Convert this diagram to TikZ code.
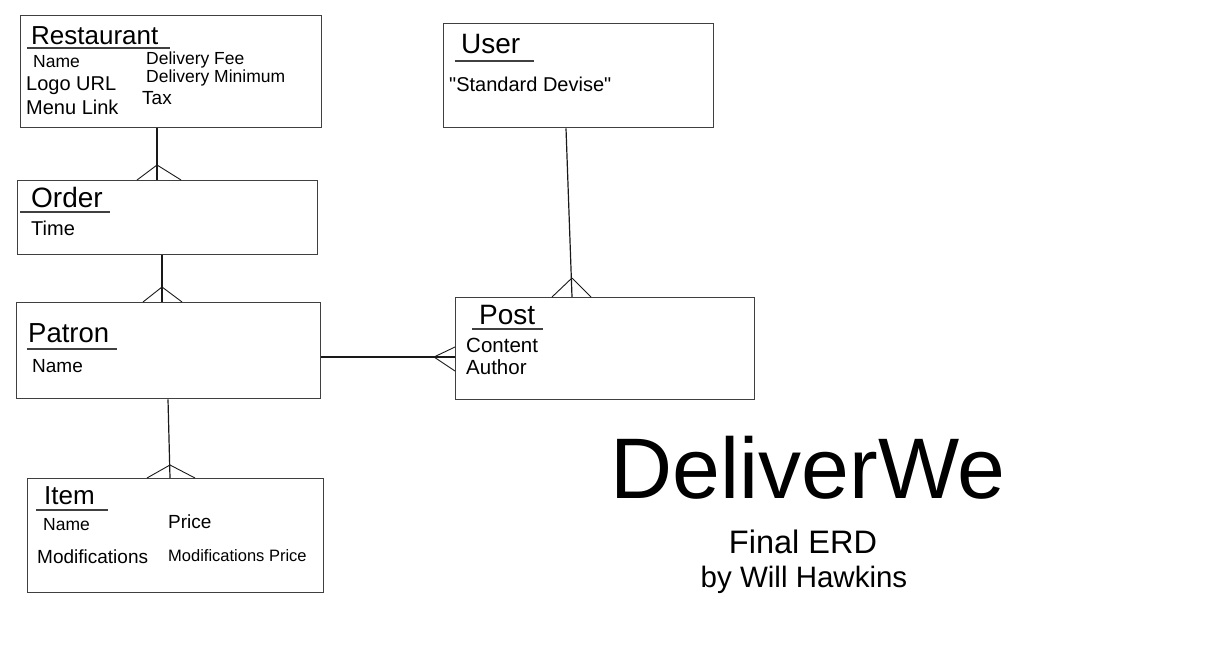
\documentclass[tikz,border=0pt]{standalone}
\usepackage{fontspec}
\setmainfont{Liberation Sans}
\newfontfamily\devfont{Liberation Sans}
\usetikzlibrary{calc}

\tikzset{
  entity/.style={draw=black!75,line width=1.3pt,rectangle,inner sep=0pt,anchor=north west},
  title/.style={anchor=west,inner sep=0pt,font=\fontsize{27}{27}\selectfont},
  attr/.style={anchor=west,inner sep=0pt,font=\fontsize{19}{19}\selectfont},
  small/.style={font=\fontsize{17.5}{17.5}\selectfont},
  bar/.style={draw=black!75,line width=2pt},
  link/.style={draw=black!90,line width=1.2pt},
  foot/.style={draw=black!90,line width=0.9pt}
}

\begin{document}
\begin{tikzpicture}[x=1pt,y=-1pt]
\useasboundingbox (0,0) rectangle (1215,647);
% entities
\node[entity,minimum width=301pt,minimum height=112pt] (restaurant) at (20,15) {};
\node[entity,minimum width=300pt,minimum height=74pt] (order) at (17,180) {};
\node[entity,minimum width=304pt,minimum height=96pt] (patron) at (16,302) {};
\node[entity,minimum width=296pt,minimum height=114pt] (item) at (27,478) {};
\node[entity,minimum width=270pt,minimum height=104pt] (user) at (443,23) {};
\node[entity,minimum width=299pt,minimum height=102pt] (post) at (455,297) {};
% restaurant
\node[title,font=\fontsize{26}{26}\selectfont] (restaurant_t) at (31,35.5) {Restaurant};
\draw[bar] (27,48) -- (170,48);
\node[attr,small] (r_name) at (33,61.5) {Name};
\node[attr,font=\fontsize{20}{20}\selectfont] (r_logo) at (26,85.5) {Logo URL};
\node[attr,font=\fontsize{20}{20}\selectfont] (r_menu) at (26,107) {Menu Link};
\node[attr,small] (r_fee) at (146,59.5) {Delivery Fee};
\node[attr,small] (r_min) at (146,78) {Delivery Minimum};
\node[attr] (r_tax) at (142,98.5) {Tax};
% order
\node[title,font=\fontsize{28}{28}\selectfont] (order_t) at (31,197.5) {Order};
\draw[bar] (20,212) -- (110,212);
\node[attr,font=\fontsize{20}{20}\selectfont] (o_time) at (31,228) {Time};
% patron
\node[title,font=\fontsize{27.5}{27.5}\selectfont] (patron_t) at (28,333) {Patron};
\draw[bar] (27,349) -- (117,349);
\node[attr] (p_name) at (32,366.5) {Name};
% item
\node[title,font=\fontsize{26}{26}\selectfont] (item_t) at (44,495.5) {Item};
\draw[bar] (36,510) -- (108,510);
\node[attr,small] (i_name) at (43,524.5) {Name};
\node[attr] (i_price) at (168,521.5) {Price};
\node[attr] (i_mod) at (37,556.5) {Modifications};
\node[attr,font=\fontsize{16.5}{16.5}\selectfont] (i_modp) at (168,555.5) {Modifications Price};
% user
\node[title,font=\fontsize{28}{28}\selectfont] (user_t) at (461,44.5) {User};
\draw[bar] (455,61) -- (534,61);
\node[attr,font=\devfont\fontsize{20}{20}\selectfont] (u_dev) at (449,84) {"Standard Devise"};
% post
\node[title,font=\fontsize{28}{28}\selectfont] (post_t) at (479,315) {Post};
\draw[bar] (472,329) -- (543,329);
\node[attr,font=\fontsize{20.5}{20.5}\selectfont] (s_content) at (466,345) {Content};
\node[attr,font=\fontsize{20.5}{20.5}\selectfont] (s_author) at (466,367.5) {Author};
% crow's feet
\coordinate (of1) at (157,165);
\coordinate (of2) at (162,287);
\coordinate (of3) at (170,465);
\coordinate (of4) at (572,278);
\coordinate (of5) at (434,357);
\draw[link] (restaurant.south -| of1) -- (order.north -| of1);
\draw[foot] (of1) -- (order.north -| 137,0) (of1) -- (order.north -| 181,0);
\draw[link] (order.south -| of2) -- (patron.north -| of2);
\draw[foot] (of2) -- (patron.north -| 143,0) (of2) -- (patron.north -| 182,0);
\draw[link] ($(patron.south west)+(152,0)$) -- (item.north -| of3);
\draw[foot] (of3) -- (item.north -| 147,0) (of3) -- (item.north -| 195,0);
\draw[link] ($(user.south west)+(123,0)$) -- (post.north -| of4);
\draw[foot] (of4) -- (post.north -| 552,0) (of4) -- (post.north -| 591,0);
\draw[link] (patron.east |- of5) -- (post.west |- of5);
\draw[foot] (of5) -- (post.west |- 0,347) (of5) -- (post.west |- 0,371);
% title
\node[inner sep=0pt,font=\fontsize{86}{86}\selectfont] (name) at (808,468) {DeliverWe};
\node[inner sep=0pt,font=\fontsize{32.5}{32.5}\selectfont] (erd) at (803,542) {Final ERD};
\node[inner sep=0pt,font=\fontsize{29.5}{29.5}\selectfont] (by) at (804,580) {by Will Hawkins};
\end{tikzpicture}
\end{document}
